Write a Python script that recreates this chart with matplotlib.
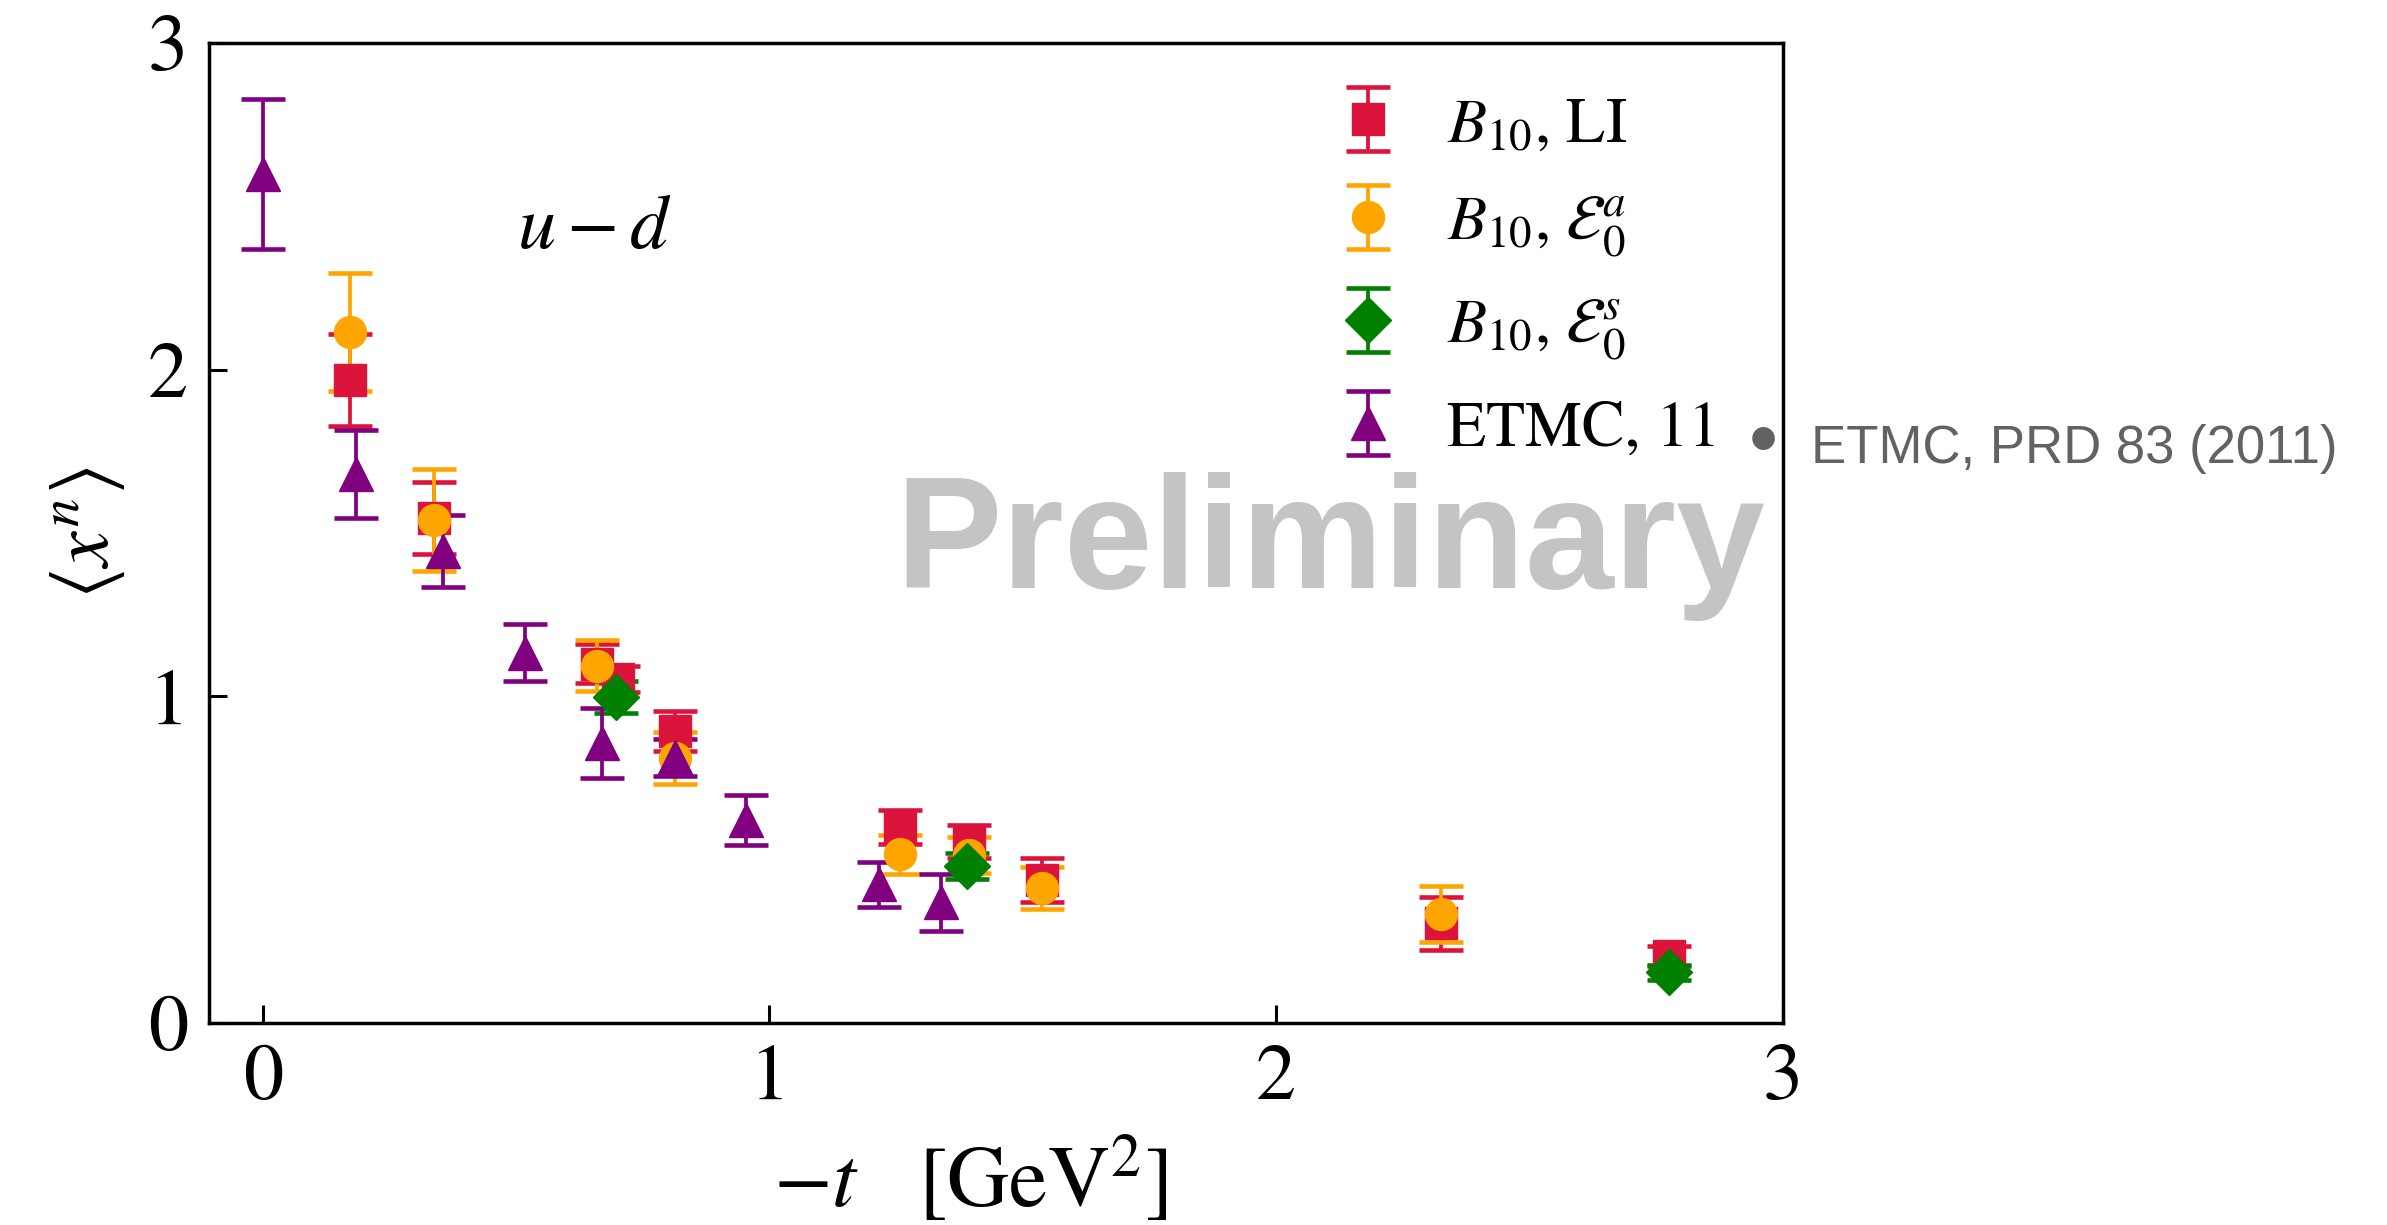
import matplotlib
matplotlib.use("Agg")
from matplotlib import pyplot as plt

# B10, LI
li_t = [0.172, 0.338, 0.659, 0.702, 0.814, 1.257, 1.394, 1.538, 2.325, 2.775]
li_x = [1.968, 1.546, 1.100, 1.054, 0.894, 0.600, 0.555, 0.438, 0.305, 0.205]
li_err = [0.14, 0.11, 0.06, 0.04, 0.06, 0.053, 0.05, 0.068, 0.082, 0.03]

# B10, E0^a
ea_t = [0.172, 0.338, 0.659, 0.814, 1.257, 1.394, 1.538, 2.325]
ea_x = [2.115, 1.540, 1.094, 0.811, 0.516, 0.514, 0.414, 0.334]
ea_err = [0.18, 0.155, 0.078, 0.079, 0.059, 0.055, 0.065, 0.085]

# B10, E0^s
es_t = [0.698, 1.389, 2.775]
es_x = [0.998, 0.480, 0.155]
es_err = [0.05, 0.04, 0.023]

# ETMC 2011
etmc_t = [0.0, 0.185, 0.356, 0.518, 0.670, 0.814, 0.953, 1.216, 1.338]
etmc_x = [2.60, 1.68, 1.445, 1.134, 0.858, 0.813, 0.621, 0.424, 0.370]
etmc_err = [0.23, 0.135, 0.11, 0.086, 0.107, 0.056, 0.076, 0.07, 0.087]

plt.rcParams['font.family'] = 'STIXGeneral'
plt.rcParams['mathtext.fontset'] = 'stix'

fig = plt.figure(figsize=(23.87, 12.25), dpi=100)
ax = fig.add_axes([0.08756, 0.1649, 0.65941, 0.8])

style = dict(ls='none', elinewidth=2.7, capsize=15.7, capthick=3.3)
ax.errorbar(li_t, li_x, yerr=li_err, fmt='s', color='#dc143c', ms=23,
            label=r'$B_{10}$, LI', **style)
ax.errorbar(ea_t, ea_x, yerr=ea_err, fmt='o', color='#ffa500', ms=23,
            label=r'$B_{10}$, $\mathcal{E}_0^a$', **style)
ax.errorbar(es_t, es_x, yerr=es_err, fmt='D', color='#008000', ms=23,
            label=r'$B_{10}$, $\mathcal{E}_0^s$', **style)
ax.errorbar(etmc_t, etmc_x, yerr=etmc_err, fmt='^', color='#800080', ms=24,
            label='ETMC, 11', **style)

ax.set_xlim(-0.106, 3)
ax.set_ylim(0, 3)
ax.set_xticks([0, 1, 2, 3])
ax.set_yticks([0, 1, 2, 3])
ax.tick_params(direction='in', length=13, width=2.2, labelsize=58, pad=15,
               top=False, right=False)
for s in ax.spines.values():
    s.set_linewidth(2.5)

ax.set_xlabel(r'$-t\quad[\mathrm{GeV}^2]$', fontsize=62)
ax.set_ylabel(r'$\langle x^n \rangle$', fontsize=58)
ax.xaxis.set_label_coords(0.4835, -0.115)
ax.yaxis.set_label_coords(-0.052, 0.5)

ax.text(0.2446, 0.809, r'$u-d$', transform=ax.transAxes, fontsize=55,
        ha='center', va='center')

ax.legend(loc='upper left', bbox_to_anchor=(0.716, 0.945), frameon=False,
          fontsize=46, borderpad=0, borderaxespad=0, handlelength=1.0,
          handletextpad=0.74, labelspacing=0.6)

fig.text(0.375, 0.52, 'Preliminary', fontsize=115, fontweight='bold',
         family='Liberation Sans', color='#c4c4c4', va='baseline')
fig.text(0.7386, 0.6376, '\u2022', fontsize=60, family='Liberation Sans',
         color='#626262', ha='center', va='center')
fig.text(0.7587, 0.6224, 'ETMC, PRD 83 (2011)', fontsize=38,
         family='Liberation Sans', color='#626262', va='baseline')

fig.savefig('out.png', dpi=100)
